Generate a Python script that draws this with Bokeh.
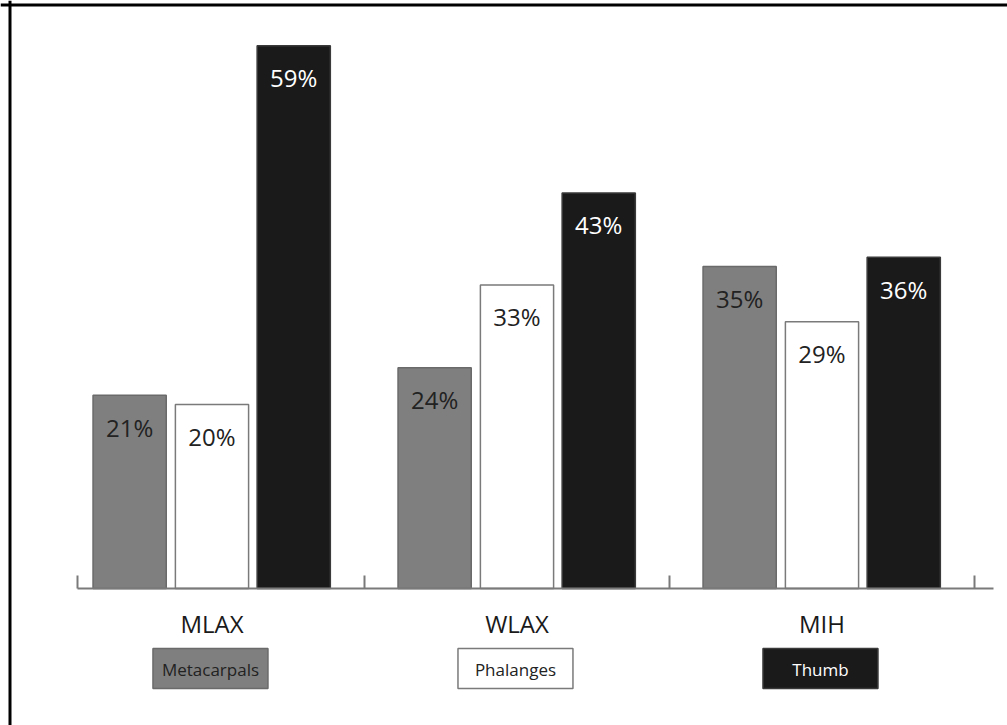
from bokeh.plotting import figure
from bokeh.models import ColumnDataSource, LinearAxis, FixedTicker, Range1d, Span
from bokeh.core.properties import value
from bokeh.embed import file_html
from bokeh.resources import INLINE
import numpy as np

# ---- data ----
groups = ["MLAX", "WLAX", "MIH"]
series = ["Metacarpals", "Phalanges", "Thumb"]
metacarpals = [21, 24, 35]
phalanges = [20, 33, 29]
thumb = [59, 43, 36]

fills = ["#7f7f7f", "#ffffff", "#1a1a1a"]
lines = ["#6a6a6a", "#7a7a7a", "#3a3a3a"]
label_colors = ["#222222", "#222222", "#ffffff"]
offsets = [-0.27, 0.0, 0.268]
bar_w = 0.24

FONT = value("Open Sans")

W, H = 1007, 725

gidx = np.arange(len(groups))
xs, ys, fc, lc, tc, labels = [], [], [], [], [], []
for s, vals in enumerate([metacarpals, phalanges, thumb]):
    for g, v in enumerate(vals):
        xs.append(gidx[g] + offsets[s])
        ys.append(v)
        fc.append(fills[s])
        lc.append(lines[s])
        tc.append(label_colors[s])
        labels.append(f"{v}%")

bars = ColumnDataSource(dict(x=xs, top=ys, fill=fc, line=lc, tcol=tc, label=labels))

p = figure(width=W, height=H,
           x_range=Range1d(-0.6934, 2.6082), y_range=Range1d(-14.89, 63.91),
           output_backend="svg", toolbar_location=None,
           x_axis_location=None, y_axis_location=None,
           min_border=0, min_border_left=0, min_border_right=0,
           min_border_top=0, min_border_bottom=0)
p.outline_line_color = None
p.xgrid.visible = False
p.ygrid.visible = False
p.background_fill_color = "white"
p.border_fill_color = "white"

# page frame (left and top edges only)
p.add_layout(Span(location=9.5, location_units="screen", dimension="height",
                  line_color="black", line_width=3))
p.add_layout(Span(location=H - 4.5, location_units="screen", dimension="width",
                  line_color="black", line_width=3))

p.vbar(x="x", top="top", bottom=0, width=bar_w, source=bars,
       fill_color="fill", line_color="line", line_width=1.5)

p.text(x="x", y="top", text="label", source=bars, text_color="tcol",
       text_font=FONT, text_font_size="24px", text_align="center",
       text_baseline="alphabetic", y_offset=32)

# axis with group-boundary ticks
ax = LinearAxis(fixed_location=0)
ax.bounds = (-0.441, 2.562)
ticks = [-0.441, 0.5, 1.5, 2.5]
ax.ticker = FixedTicker(ticks=ticks)
ax.major_label_overrides = {t: "" for t in ticks}
ax.major_tick_in = 13
ax.major_tick_out = 0
ax.minor_tick_line_color = None
ax.axis_line_color = "#7a7a7a"
ax.axis_line_width = 2
ax.major_tick_line_color = "#7a7a7a"
ax.major_tick_line_width = 2
p.add_layout(ax, "below")

# category labels
cats = ColumnDataSource(dict(x=list(gidx), y=[-3.8] * 3, t=groups))
p.text(x="x", y="y", text="t", source=cats, text_font=FONT,
       text_font_size="24px", text_align="center", text_baseline="alphabetic",
       text_color="#1a1a1a")

# legend boxes under each group
leg = ColumnDataSource(dict(x=[g - 0.005 for g in gidx], y=[-8.7] * 3,
                            ty=[-8.85] * 3, t=series, fill=fills,
                            line=lines, tcol=label_colors))
p.rect(x="x", y="y", width=0.377, height=4.35, source=leg,
       fill_color="fill", line_color="line", line_width=1.5)
p.text(x="x", y="ty", text="t", source=leg, text_color="tcol", text_font=FONT,
       text_font_size="17px", text_align="center", text_baseline="alphabetic")

open("out.html", "w").write(file_html(p, INLINE))
